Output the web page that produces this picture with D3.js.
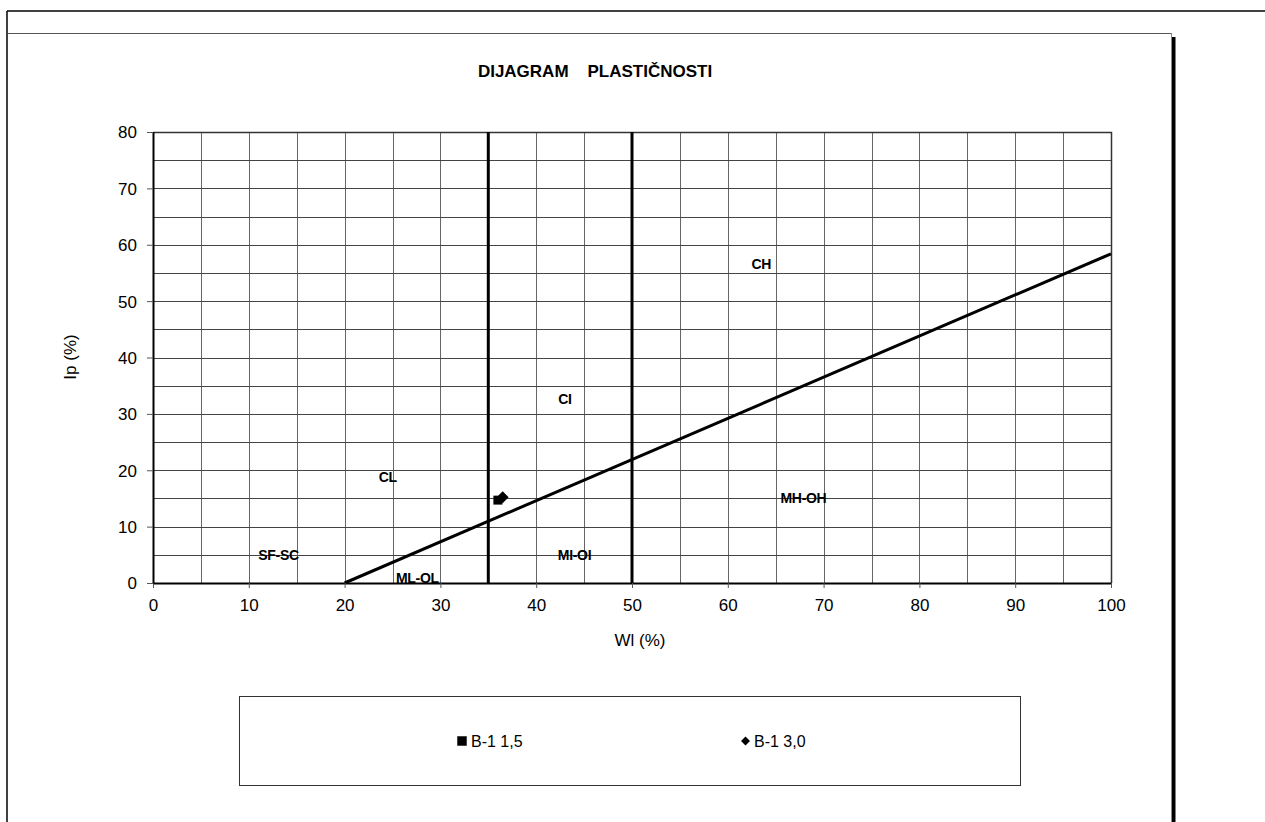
<!DOCTYPE html>
<html>
<head>
<meta charset="utf-8">
<script src="https://cdn.jsdelivr.net/npm/d3@7"></script>
<style>
  body { margin: 0; background: #fff; }
  svg { font-family: "Liberation Sans", Arial, sans-serif; }
</style>
</head>
<body>
<svg id="chart" width="1265" height="822"></svg>
<script>
// soil sample points (Wl %, Ip %)
const samples = [
    { name: "B-1 1,5", wl: 36.0, ip: 14.7, symbol: d3.symbolSquare },
    { name: "B-1 3,0", wl: 36.5, ip: 15.2, symbol: d3.symbolDiamond2 }
];

// A-line Ip = 0.73 (Wl - 20)
const aLine = [[20, 0], [100, 58.4]];
const boundaries = [35, 50];

const zoneLabels = [
    { text: "CH", wl: 63.5, ip: 56.6 },
    { text: "CI", wl: 43.0, ip: 32.6 },
    { text: "CL", wl: 24.5, ip: 18.8 },
    { text: "MH-OH", wl: 67.9, ip: 15.0 },
    { text: "MI-OI", wl: 44.0, ip: 5.0 },
    { text: "SF-SC", wl: 13.1, ip: 5.0 },
    { text: "ML-OL", wl: 27.6, ip: 0.9 }
];

const xTicks = d3.range(0, 101, 10);
const yTicks = d3.range(0, 81, 10);
const gridX = d3.range(5, 100, 5);
const gridY = d3.range(5, 80, 5);

let svg = d3.select('#chart');

// outer frame
svg.append("line").attr("x1", 7).attr("x2", 1265).attr("y1", 11).attr("y2", 11)
    .attr("stroke", "#000").attr("stroke-width", 1.5);
svg.append("line").attr("x1", 7).attr("x2", 7).attr("y1", 11).attr("y2", 822)
    .attr("stroke", "#000").attr("stroke-width", 1.5);

// chart area frame with shadow
svg.append("line").attr("x1", 8).attr("x2", 1172).attr("y1", 33.5).attr("y2", 33.5)
    .attr("stroke", "#555").attr("stroke-width", 1);
svg.append("line").attr("x1", 1171.5).attr("x2", 1171.5).attr("y1", 33).attr("y2", 822)
    .attr("stroke", "#888").attr("stroke-width", 1);
svg.append("rect").attr("x", 1172).attr("y", 37).attr("width", 3.5).attr("height", 785)
    .attr("fill", "#000");

svg.append("text")
    .attr("x", 595).attr("y", 77)
    .attr("text-anchor", "middle")
    .attr("font-size", 17).attr("font-weight", "bold")
    .attr("xml:space", "preserve")
    .style("white-space", "pre")
    .text("DIJAGRAM    PLASTIČNOSTI");

const x0 = 153, x1 = 1111, y0 = 583, y1 = 132;

var xScale = d3.scaleLinear().domain([0, 100]).range([x0, x1]);
var yScale = d3.scaleLinear().domain([0, 80]).range([y0, y1]);

let plot = svg.append("g");

// grid
plot.selectAll(".gx").data(gridX).enter().append("line")
    .attr("x1", d => Math.round(xScale(d)) + 0.5).attr("x2", d => Math.round(xScale(d)) + 0.5)
    .attr("y1", y1).attr("y2", y0)
    .attr("stroke", "#666").attr("stroke-width", 1);
plot.selectAll(".gy").data(gridY).enter().append("line")
    .attr("y1", d => Math.round(yScale(d)) + 0.5).attr("y2", d => Math.round(yScale(d)) + 0.5)
    .attr("x1", x0).attr("x2", x1)
    .attr("stroke", "#444").attr("stroke-width", 1);

// plot border top/right
plot.append("path")
    .attr("d", `M${x0},${y1 + 0.5}H${x1 + 0.5}V${y0}`)
    .attr("fill", "none").attr("stroke", "#333").attr("stroke-width", 1.5);

// axes
let xAxis = d3.axisBottom(xScale).tickValues(xTicks).tickSize(5).tickSizeOuter(0);
let yAxis = d3.axisLeft(yScale).tickValues(yTicks).tickSize(6).tickSizeOuter(0);

let gx = svg.append("g").attr("transform", `translate(0,${y0})`).call(xAxis);
let gy = svg.append("g").attr("transform", `translate(${x0},0)`).call(yAxis);
[gx, gy].forEach(g => {
    g.select(".domain").attr("stroke", "#000").attr("stroke-width", 2);
    g.selectAll(".tick line").attr("stroke", "#555");
    g.selectAll("text").attr("font-size", 17).attr("fill", "#000")
        .attr("font-family", "Liberation Sans, Arial, sans-serif");
});
gx.selectAll("text").attr("y", 28).attr("dy", 0);
gy.selectAll("text").attr("dy", "0.35em").attr("x", -16);

// zone boundaries
plot.selectAll(".bnd").data(boundaries).enter().append("line")
    .attr("x1", d => xScale(d)).attr("x2", d => xScale(d))
    .attr("y1", y1).attr("y2", y0)
    .attr("stroke", "#000").attr("stroke-width", 3);

var dline = d3.line()
    .x(function(d){ return xScale(d[0]) })
    .y(function(d){ return yScale(d[1]) });

plot.append("path")
    .datum(aLine)
    .attr("d", dline)
    .attr("fill", "none")
    .attr("stroke", "#000")
    .attr("stroke-width", 3);

// zone labels
plot.selectAll(".zl").data(zoneLabels).enter().append("text")
    .attr("x", d => xScale(d.wl)).attr("y", d => yScale(d.ip))
    .attr("text-anchor", "middle").attr("dy", "0.35em")
    .attr("font-size", 14).attr("font-weight", "bold")
    .attr("letter-spacing", -0.3)
    .text(d => d.text);

// points
plot.selectAll(".pt").data(samples).enter().append("path")
    .attr("transform", d => `translate(${xScale(d.wl)},${yScale(d.ip)})`)
    .attr("d", d => d3.symbol().type(d.symbol).size(d.symbol === d3.symbolSquare ? 80 : 90)())
    .attr("fill", "#000");

// axis titles
svg.append("text")
    .attr("transform", "translate(76,357) rotate(-90)")
    .attr("text-anchor", "middle")
    .attr("font-size", 17)
    .text("Ip (%)");
svg.append("text")
    .attr("x", 640).attr("y", 646)
    .attr("text-anchor", "middle")
    .attr("font-size", 17)
    .text("Wl (%)");

// legend
svg.append("rect")
    .attr("x", 239.5).attr("y", 696.5).attr("width", 781).attr("height", 89)
    .attr("fill", "#fff").attr("stroke", "#333").attr("stroke-width", 1);

const legendX = [462, 745.5];
let lg = svg.selectAll(".lg").data(samples).enter().append("g")
    .attr("transform", (d, i) => `translate(${legendX[i]},741)`);
lg.append("path")
    .attr("d", d => d3.symbol().type(d.symbol).size(d.symbol === d3.symbolSquare ? 90 : 52)())
    .attr("fill", "#000");
lg.append("text")
    .attr("x", (d, i) => i === 0 ? 9 : 8.5).attr("y", 6)
    .attr("font-size", 16)
    .text(d => d.name);
</script>
</body>
</html>
